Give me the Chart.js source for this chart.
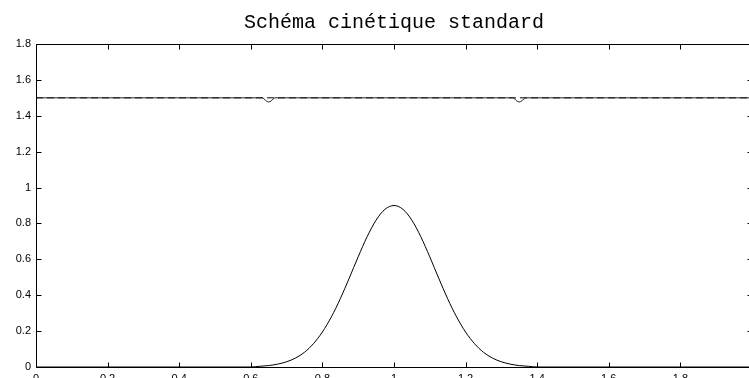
<!DOCTYPE html>
<html>
<head>
<meta charset="utf-8">
<title>Schéma cinétique standard</title>
<script src="https://cdn.jsdelivr.net/npm/chart.js@4/dist/chart.umd.min.js"></script>
<style>
  html, body { margin: 0; padding: 0; background: #fff; overflow: hidden; }
  #wrap { position: absolute; left: 0; top: 0; width: 760px; height: 392px; }
</style>
</head>
<body>
<div id="wrap"><canvas id="chart" width="760" height="392"></canvas></div>
<script>
// Titre et axes
const chartTitle = 'Schéma cinétique standard';
const xRange = [0, 2];
const yRange = [0, 1.8];
const tickStep = 0.2;

// Profil initial (bosse centrée en x = 1)
const bumpX = [0, 0.6, 0.625, 0.65, 0.675, 0.7, 0.725, 0.75, 0.775, 0.8, 0.825,
  0.85, 0.875, 0.9, 0.925, 0.95, 0.975, 1.0, 1.025, 1.05, 1.075, 1.1, 1.125,
  1.15, 1.175, 1.2, 1.225, 1.25, 1.275, 1.3, 1.325, 1.35, 1.375, 1.4, 2];
const bumpY = [0, 0, 0.004, 0.008, 0.016, 0.029, 0.050, 0.082, 0.130, 0.195, 0.279,
  0.380, 0.495, 0.614, 0.726, 0.818, 0.879, 0.900, 0.879, 0.818, 0.726, 0.614, 0.495,
  0.380, 0.279, 0.195, 0.130, 0.082, 0.050, 0.029, 0.016, 0.008, 0.004, 0, 0];

// Niveau constant avec deux petits creux
const levelX = [0, 0.634, 0.641, 0.646, 0.65, 0.654, 0.659, 0.666,
  1.334, 1.341, 1.346, 1.35, 1.354, 1.359, 1.366, 2];
const levelY = [1.5, 1.5, 1.486, 1.479, 1.477, 1.479, 1.486, 1.5,
  1.5, 1.486, 1.479, 1.477, 1.479, 1.486, 1.5, 1.5];

// Référence en pointillés
const refX = [0, 2];
const refY = [1.5, 1.5];

const toPoints = (xs, ys) => xs.map((x, i) => ({ x: x, y: ys[i] }));

const fmt = (v) => String(Number(v.toFixed(1)));

// Cadre façon Matlab : bordure + graduations vers l'intérieur, titre centré sur les axes
const framePlugin = {
  id: 'frame',
  afterDatasetsDraw(chart) {
    const ctx = chart.ctx;
    const a = chart.chartArea;
    const L = Math.round(a.left) + 0.5;
    const R = Math.round(a.right) + 0.5;
    const T = Math.round(a.top) + 0.5;
    const B = Math.round(a.bottom) + 0.5;
    const len = 5;
    ctx.save();
    ctx.strokeStyle = '#000';
    ctx.lineWidth = 1;
    ctx.beginPath();
    ctx.rect(L, T, R - L, B - T);
    chart.scales.x.ticks.forEach((t) => {
      const px = Math.round(chart.scales.x.getPixelForValue(t.value)) + 0.5;
      ctx.moveTo(px, B); ctx.lineTo(px, B - len);
      ctx.moveTo(px, T); ctx.lineTo(px, T + len);
    });
    chart.scales.y.ticks.forEach((t) => {
      const py = Math.round(chart.scales.y.getPixelForValue(t.value)) + 0.5;
      ctx.moveTo(L, py); ctx.lineTo(L + len, py);
      ctx.moveTo(R, py); ctx.lineTo(R - len, py);
    });
    ctx.stroke();

    ctx.fillStyle = '#000';
    ctx.font = '20px "Liberation Mono", "DejaVu Sans Mono", monospace';
    ctx.textAlign = 'center';
    ctx.textBaseline = 'alphabetic';
    ctx.fillText(chartTitle, (a.left + a.right) / 2, 28);
    ctx.restore();
  },
};

const tickFont = { family: '"Liberation Sans", Arial, sans-serif', size: 11 };

new Chart(document.getElementById('chart'), {
  type: 'scatter',
  data: {
    datasets: [
      {
        label: 'niveau',
        data: toPoints(levelX, levelY),
        showLine: true,
        borderColor: '#222',
        borderWidth: 1,
        pointRadius: 0,
        tension: 0,
      },
      {
        label: 'référence',
        data: toPoints(refX, refY),
        showLine: true,
        borderColor: '#000',
        borderWidth: 1,
        borderDash: [7, 4],
        pointRadius: 0,
      },
      {
        label: 'profil',
        data: toPoints(bumpX, bumpY),
        showLine: true,
        borderColor: '#000',
        borderWidth: 1,
        pointRadius: 0,
        cubicInterpolationMode: 'monotone',
      },
    ],
  },
  options: {
    responsive: false,
    animation: false,
    layout: { padding: { top: 44, right: 4, left: 0, bottom: 0 } },
    plugins: {
      legend: { display: false },
      tooltip: { enabled: false },
      title: { display: false },
    },
    scales: {
      x: {
        type: 'linear',
        min: xRange[0],
        max: xRange[1],
        grid: { display: false, drawTicks: false },
        border: { display: false },
        ticks: {
          stepSize: tickStep,
          autoSkip: false,
          maxRotation: 0,
          padding: 5,
          color: '#000',
          font: tickFont,
          callback: fmt,
        },
        afterFit: (scale) => { scale.height = 25; },
      },
      y: {
        type: 'linear',
        min: yRange[0],
        max: yRange[1],
        grid: { display: false, drawTicks: false },
        border: { display: false },
        ticks: {
          stepSize: tickStep,
          padding: 5,
          color: '#000',
          font: tickFont,
          callback: fmt,
        },
        afterFit: (scale) => { scale.width = 36; },
      },
    },
  },
  plugins: [framePlugin],
});
</script>
</body>
</html>
